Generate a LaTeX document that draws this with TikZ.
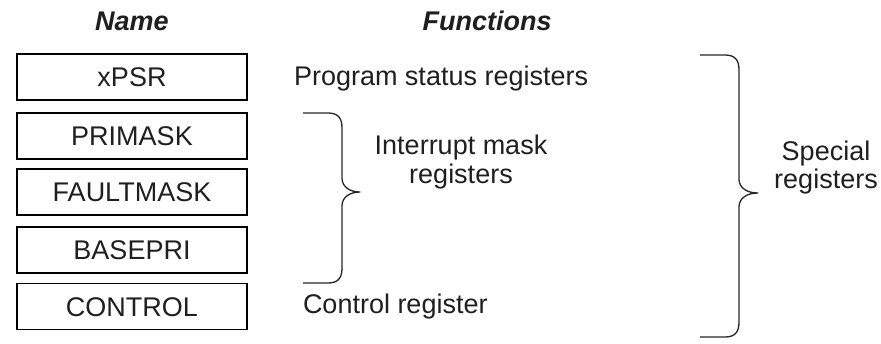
\documentclass[tikz,border=0pt]{standalone}
\usepackage{fontspec}
\setmainfont{Liberation Sans}
\begin{document}
\begin{tikzpicture}[x=1pt,y=-1pt,
  every node/.style={inner sep=0pt,outer sep=0pt,text=black!88},
  txt/.style={font=\fontsize{27}{31}\selectfont},
  head/.style={font=\fontsize{27}{31}\selectfont\bfseries\itshape,anchor=base},
  regbox/.style={txt,draw=black,line width=1.6pt,minimum width=230pt,minimum height=46pt,text height=19pt,text depth=0pt},
  brace/.style={draw=black!85,line width=1.3pt,line join=round}]
\useasboundingbox (0,0) rectangle (881,343);

% column headers
\node[head] (hname) at (132,30) {Name};
\node[head] (hfunc) at (487,30) {Functions};

% register boxes
\node[regbox] (xpsr)      at (132,77)    {xPSR};
\node[regbox] (primask)   at (132,136)   {PRIMASK};
\node[regbox] (faultmask) at (132,192)   {FAULTMASK};
\node[regbox] (basepri)   at (132,250)   {BASEPRI};
\node[regbox] (control)   at (132,306.5) {CONTROL};

% function descriptions
\node[txt,anchor=base west] (fpsr)  at (294,85)  {Program status registers};
\node[txt,anchor=base west] (fctrl) at (303,313) {Control register};
\node[txt,anchor=base,align=center] (fmask) at (461,183) {Interrupt mask\\[-2pt]registers};
\node[txt,anchor=base,align=center] (fspec) at (826,188) {Special\\[-3pt]registers};

% brace grouping the interrupt mask registers
\draw[brace] (303,113) -- (328,113) .. controls (338,113) and (342,118) .. (342,128)
  -- (342,178) .. controls (342,187) and (350,192) .. (360,192)
  .. controls (350,192) and (342,197) .. (342,206)
  -- (342,268) .. controls (342,278) and (338,283) .. (328,283) -- (303,283);

% brace grouping all special registers
\draw[brace] (700,55) -- (725,55) .. controls (735,55) and (739,60) .. (739,70)
  -- (739,179) .. controls (739,188) and (747,193) .. (758,193)
  .. controls (747,193) and (739,198) .. (739,207)
  -- (739,322) .. controls (739,332) and (735,337) .. (725,337) -- (700,337);
\end{tikzpicture}
\end{document}
